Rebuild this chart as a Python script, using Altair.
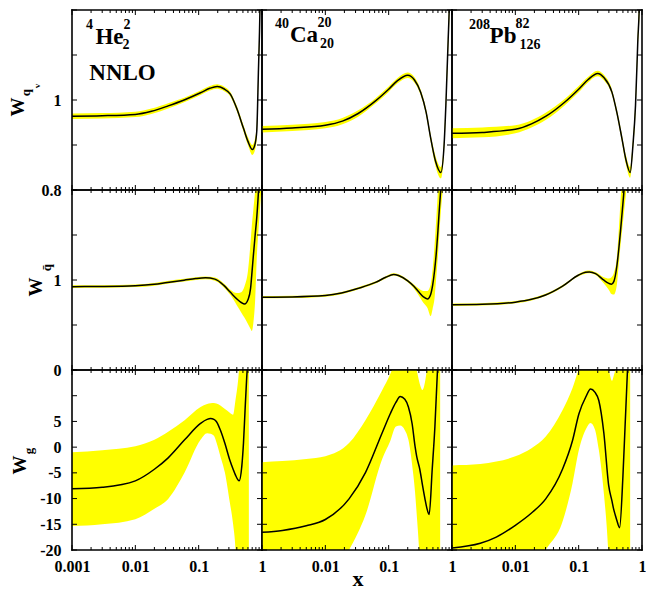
import altair as alt
import pandas as pd

FONT = "Liberation Serif"
YEL = "#ffff00"
W, H = 190, 180

# ---------------- row 1 : valence quarks W_qv ----------------
X_HE_V = [0.001, 0.003, 0.01, 0.018, 0.033, 0.059, 0.107, 0.15, 0.196, 0.25, 0.316, 0.40, 0.51, 0.60, 0.706, 0.77, 0.826, 0.877, 0.93, 0.97]
M_HE_V = [0.964, 0.965, 0.968, 0.975, 0.987, 1.000, 1.016, 1.026, 1.030, 1.025, 1.013, 0.981, 0.937, 0.908, 0.890, 0.900, 0.930, 1.061, 1.207, 1.40]
L_HE_V = [0.958, 0.959, 0.962, 0.969, 0.981, 0.995, 1.011, 1.021, 1.025, 1.020, 1.008, 0.975, 0.930, 0.900, 0.878, 0.887, 0.915, 1.040, 1.180, 1.36]
H_HE_V = [0.970, 0.971, 0.974, 0.981, 0.993, 1.005, 1.021, 1.031, 1.035, 1.030, 1.018, 0.987, 0.944, 0.917, 0.900, 0.912, 0.945, 1.080, 1.230, 1.44]

X_CA_V = [0.001, 0.003, 0.01, 0.0186, 0.033, 0.062, 0.1, 0.138, 0.20, 0.254, 0.32, 0.39, 0.46, 0.55, 0.667, 0.75, 0.80, 0.87, 0.91, 0.95]
M_CA_V = [0.935, 0.938, 0.944, 0.953, 0.970, 0.998, 1.024, 1.043, 1.055, 1.045, 1.017, 0.973, 0.916, 0.864, 0.839, 0.900, 0.988, 1.134, 1.220, 1.40]
L_CA_V = [0.928, 0.931, 0.937, 0.946, 0.963, 0.992, 1.018, 1.037, 1.049, 1.039, 1.011, 0.966, 0.908, 0.853, 0.826, 0.885, 0.970, 1.110, 1.190, 1.37]
H_CA_V = [0.942, 0.945, 0.951, 0.960, 0.977, 1.004, 1.030, 1.049, 1.061, 1.051, 1.023, 0.980, 0.924, 0.875, 0.851, 0.915, 1.006, 1.158, 1.250, 1.43]

X_PB_V = [0.001, 0.003, 0.01, 0.018, 0.0305, 0.06, 0.1, 0.14, 0.20, 0.25, 0.336, 0.40, 0.48, 0.56, 0.65, 0.72, 0.79, 0.86, 0.91, 0.95]
M_PB_V = [0.926, 0.928, 0.935, 0.947, 0.964, 0.995, 1.024, 1.045, 1.059, 1.050, 1.017, 0.973, 0.916, 0.866, 0.839, 0.900, 0.988, 1.134, 1.220, 1.40]
L_PB_V = [0.915, 0.917, 0.926, 0.939, 0.956, 0.988, 1.017, 1.039, 1.053, 1.044, 1.011, 0.966, 0.908, 0.856, 0.827, 0.887, 0.972, 1.114, 1.190, 1.37]
H_PB_V = [0.937, 0.939, 0.944, 0.955, 0.972, 1.002, 1.031, 1.051, 1.065, 1.056, 1.023, 0.980, 0.924, 0.876, 0.851, 0.913, 1.004, 1.154, 1.250, 1.43]

# ---------------- row 2 : sea quarks W_qbar ----------------
X_HE_S = [0.001, 0.003, 0.01, 0.02, 0.032, 0.059, 0.09, 0.128, 0.18, 0.25, 0.32, 0.40, 0.47, 0.53, 0.60, 0.66, 0.69, 0.73, 0.78, 0.83, 0.88, 0.93, 0.98]
M_HE_S = [0.926, 0.928, 0.936, 0.952, 0.973, 0.998, 1.016, 1.024, 1.010, 0.940, 0.860, 0.790, 0.750, 0.732, 0.780, 0.907, 1.060, 1.270, 1.500, 1.710, 1.990, 2.400, 2.800]
H_HE_S = [0.941, 0.943, 0.951, 0.967, 0.988, 1.013, 1.031, 1.040, 1.028, 0.962, 0.890, 0.855, 0.865, 0.930, 1.100, 1.420, 1.600, 1.780, 2.000, 2.300, 2.700, 3.100, 3.500]
L_HE_S = [0.911, 0.913, 0.921, 0.937, 0.958, 0.983, 1.001, 1.008, 0.992, 0.918, 0.830, 0.720, 0.640, 0.580, 0.510, 0.455, 0.434, 0.520, 0.780, 1.270, 1.550, 1.800, 2.000]

X_CA_S = [0.001, 0.003, 0.01, 0.018, 0.033, 0.062, 0.09, 0.12, 0.143, 0.20, 0.25, 0.295, 0.35, 0.41, 0.46, 0.495, 0.53, 0.56, 0.60, 0.63, 0.67, 0.72]
M_CA_S = [0.809, 0.812, 0.827, 0.855, 0.907, 0.973, 1.030, 1.062, 1.050, 0.990, 0.930, 0.871, 0.815, 0.790, 0.840, 0.943, 1.100, 1.270, 1.550, 1.780, 2.050, 2.500]
H_CA_S = [0.822, 0.825, 0.840, 0.868, 0.920, 0.986, 1.043, 1.075, 1.064, 1.005, 0.950, 0.907, 0.878, 0.878, 0.950, 1.125, 1.380, 1.640, 2.000, 2.300, 2.700, 3.100]
L_CA_S = [0.796, 0.799, 0.814, 0.842, 0.894, 0.960, 1.017, 1.049, 1.036, 0.975, 0.905, 0.834, 0.750, 0.688, 0.598, 0.680, 0.798, 1.000, 1.270, 1.500, 1.780, 2.000]

X_PB_S = [0.001, 0.003, 0.01, 0.018, 0.03, 0.055, 0.1, 0.128, 0.148, 0.185, 0.25, 0.30, 0.33, 0.36, 0.40, 0.43, 0.46, 0.49, 0.52, 0.56, 0.60]
M_PB_S = [0.725, 0.730, 0.754, 0.785, 0.834, 0.930, 1.055, 1.085, 1.090, 1.071, 0.998, 0.962, 0.954, 0.985, 1.150, 1.344, 1.560, 1.780, 2.000, 2.400, 2.800]
H_PB_S = [0.738, 0.743, 0.767, 0.798, 0.847, 0.943, 1.068, 1.100, 1.105, 1.085, 1.030, 1.016, 1.030, 1.080, 1.250, 1.560, 1.900, 2.200, 2.500, 2.900, 3.300]
L_PB_S = [0.712, 0.717, 0.741, 0.772, 0.821, 0.917, 1.042, 1.070, 1.075, 1.055, 0.960, 0.890, 0.845, 0.838, 0.943, 1.180, 1.400, 1.580, 1.750, 1.970, 2.200]

# ---------------- row 3 : gluons W_g ----------------
X_HE_G = [0.001, 0.003, 0.01, 0.02, 0.033, 0.06, 0.107, 0.136, 0.154, 0.174, 0.19, 0.22, 0.26, 0.31, 0.35, 0.38, 0.436, 0.48, 0.51, 0.54, 0.57, 0.62]
M_HE_G = [-8.1, -7.8, -6.55, -4.3, -2.08, 1.42, 4.61, 5.4, 5.56, 5.4, 5.0, 3.33, 0.7, -2.5, -4.3, -5.4, -6.55, -3.7, 0.8, 7.16, 12.9, 20.0]
H_HE_G = [-1.0, -0.6, 0.17, 1.42, 3.01, 5.25, 7.8, 8.4, 8.55, 8.6, 8.5, 8.1, 7.4, 6.7, 6.3, 9.0, 15.5, 25.0, 40.0, 40.0, 40.0, 40.0]
L_HE_G = [-15.35, -15.0, -14.0, -11.97, -10.06, -4.95, 1.42, 2.7, 2.6, 2.2, 1.0, -1.77, -5.0, -10.7, -15.0, -19.6, -40.0, -40.0, -40.0, -40.0, -40.0, -40.0]

X_CA_G = [0.001, 0.0021, 0.005, 0.01, 0.0237, 0.043, 0.0785, 0.106, 0.13, 0.152, 0.18, 0.205, 0.235, 0.261, 0.277, 0.31, 0.343, 0.374, 0.40, 0.436, 0.487, 0.537, 0.59, 0.65]
M_CA_G = [-16.56, -16.2, -15.3, -14.07, -10.06, -4.95, 2.7, 6.5, 8.7, 9.84, 9.3, 7.79, 4.5, 0.14, -1.8, -4.3, -7.5, -10.06, -11.8, -13.1, -4.3, 3.97, 15.0, 28.0]
H_CA_G = [-2.92, -2.7, -2.3, -1.77, 0.79, 5.25, 11.0, 14.2, 17.0, 19.0, 19.5, 19.0, 17.5, 16.2, 15.0, 12.3, 11.1, 12.6, 15.0, 19.0, 30.0, 40.0, 40.0, 40.0]
L_CA_G = [-30.0, -29.5, -28.0, -26.5, -20.0, -13.2, -2.4, 1.2, 4.0, 4.2, 3.3, 1.42, -3.5, -8.77, -13.0, -23.0, -40.0, -40.0, -40.0, -40.0, -40.0, -40.0, -40.0, -40.0]

X_PB_G = [0.001, 0.0028, 0.005, 0.01, 0.018, 0.0302, 0.0555, 0.08, 0.101, 0.13, 0.154, 0.18, 0.208, 0.25, 0.298, 0.336, 0.356, 0.378, 0.40, 0.443, 0.50, 0.54, 0.59, 0.65]
M_PB_G = [-19.6, -18.7, -17.5, -15.2, -12.8, -10.06, -4.3, 1.3, 6.5, 9.8, 11.3, 10.7, 9.07, 2.7, -7.5, -10.5, -12.0, -13.2, -14.2, -15.66, -5.6, 3.97, 15.0, 28.0]
H_PB_G = [-3.55, -3.3, -2.8, -1.77, -0.2, 2.06, 7.16, 11.5, 15.2, 18.0, 19.0, 19.0, 18.5, 17.0, 15.0, 12.9, 13.8, 15.0, 17.0, 25.0, 40.0, 40.0, 40.0, 40.0]
L_PB_G = [-33.0, -32.0, -30.5, -28.5, -25.0, -20.0, -14.5, -7.0, -0.5, 3.5, 4.7, 3.5, -0.5, -9.0, -22.0, -40.0, -40.0, -40.0, -40.0, -40.0, -40.0, -40.0, -40.0, -40.0]

# ---------------- axes ----------------
ROW_DOMAIN = [[0.8, 1.2], [0.0, 2.0], [-20.0, 15.0]]
ROW_TICKS = [[0.8, 0.9, 1.0, 1.1, 1.2], [0.0, 0.5, 1.0, 1.5, 2.0], [-20, -15, -10, -5, 0, 5, 10, 15]]
ROW_LABELS = [[0.8, 1.0], [0.0, 1.0], [-20, -15, -10, -5, 0, 5]]
XLAB_FIRST = [0.001, 0.01, 0.1, 1.0]
XLAB_OTHER = [0.01, 0.1, 1.0]
XMAJ = [0.001, 0.01, 0.1, 1.0]
XMIN = [m * d for d in (0.001, 0.01, 0.1) for m in range(2, 10)]

ONE = pd.DataFrame({"a": [0]})


def txt(s, x, y, size, angle=0):
    return alt.Chart(ONE).mark_text(
        text=s, font=FONT, fontWeight="bold", fontSize=size, color="black",
        align="center", baseline="middle", angle=angle
    ).encode(x=alt.value(x), y=alt.value(y))


def frame():
    st = dict(color="black", strokeWidth=1.6, strokeCap="square")
    c = alt.Chart(ONE)
    return [
        c.mark_rule(**st).encode(x=alt.value(0), x2=alt.value(W), y=alt.value(0)),
        c.mark_rule(**st).encode(x=alt.value(0), x2=alt.value(W), y=alt.value(H)),
        c.mark_rule(**st).encode(x=alt.value(0), y=alt.value(0), y2=alt.value(H)),
        c.mark_rule(**st).encode(x=alt.value(W), y=alt.value(0), y2=alt.value(H)),
    ]


TEXTS = {
    (0, 0): [("4", 17.5, 14.5, 14), ("He", 37.5, 26.5, 23), ("2", 55, 14.5, 14), ("2", 54, 34.5, 14), ("NNLO", 50.5, 62.5, 23)],
    (0, 1): [("40", 20, 14, 14), ("Ca", 42, 25, 23), ("20", 62.5, 12.5, 14), ("20", 65, 34, 14)],
    (0, 2): [("208", 27.5, 15, 14), ("Pb", 51, 26, 23), ("82", 70.5, 14, 14), ("126", 78, 34.5, 14)],
}
YTITLES = {
    0: [("W", -54.5, 97, 19), ("q", -46, 82.7, 13), ("v", -34.6, 76, 9)],
    1: [("W", -36, 97, 19), ("q\u0304", -25, 77.7, 13)],
    2: [("W", -52.5, 95, 19), ("g", -43.4, 81, 13)],
}


def panel(row, col, xs, mid, lo, hi):
    xscale = alt.Scale(type="log", domain=[0.001, 1], nice=False)
    yscale = alt.Scale(domain=ROW_DOMAIN[row], nice=False, zero=False)
    lab = dict(labelFont=FONT, labelFontWeight="bold", labelFontSize=16, labelColor="black",
               ticks=False, tickSize=0, domain=False, grid=False, title=None,
               labelOverlap=False, labelExpr="'' + datum.value")
    xaxis = None
    if row == 2:
        xaxis = alt.Axis(values=XLAB_FIRST if col == 0 else XLAB_OTHER, labelFlush=False,
                         labelPadding=8, **lab)
    yaxis = None
    if col == 0:
        yaxis = alt.Axis(values=ROW_LABELS[row], labelPadding=11, **lab)

    df = pd.DataFrame({"x": xs, "mid": mid, "lo": lo, "hi": hi})
    X = alt.X("x:Q", scale=xscale, axis=xaxis)
    band = alt.Chart(df).mark_area(color=YEL, interpolate="monotone", clip=True).encode(
        x=X, y=alt.Y("lo:Q", scale=yscale, axis=yaxis), y2="hi:Q")
    line = alt.Chart(df).mark_line(color="black", strokeWidth=1.5, interpolate="monotone", clip=True).encode(
        x=X, y=alt.Y("mid:Q", scale=yscale, axis=yaxis))

    layers = [band, line]
    tick = dict(color="black", strokeWidth=1)
    for vals, size in ((XMAJ, 5), (XMIN, 3)):
        c = alt.Chart(pd.DataFrame({"v": vals})).mark_rule(**tick)
        XV = alt.X("v:Q", scale=xscale, axis=xaxis)
        layers.append(c.encode(x=XV, y=alt.value(H), y2=alt.value(H - size)))
        layers.append(c.encode(x=XV, y=alt.value(0), y2=alt.value(size)))
    c = alt.Chart(pd.DataFrame({"v": ROW_TICKS[row]})).mark_rule(**tick)
    YV = alt.Y("v:Q", scale=yscale, axis=yaxis)
    layers.append(c.encode(y=YV, x=alt.value(0), x2=alt.value(5)))
    layers.append(c.encode(y=YV, x=alt.value(W), x2=alt.value(W - 5)))

    layers += frame()
    for t in TEXTS.get((row, col), []):
        layers.append(txt(*t))
    if col == 0:
        for t in YTITLES[row]:
            layers.append(txt(*t, angle=270))
    if row == 2 and col == 1:
        layers.append(txt("x", 96, H + 29, 22))
    return alt.layer(*layers).properties(width=W, height=H)


DATA = [
    [(X_HE_V, M_HE_V, L_HE_V, H_HE_V), (X_CA_V, M_CA_V, L_CA_V, H_CA_V), (X_PB_V, M_PB_V, L_PB_V, H_PB_V)],
    [(X_HE_S, M_HE_S, L_HE_S, H_HE_S), (X_CA_S, M_CA_S, L_CA_S, H_CA_S), (X_PB_S, M_PB_S, L_PB_S, H_PB_S)],
    [(X_HE_G, M_HE_G, L_HE_G, H_HE_G), (X_CA_G, M_CA_G, L_CA_G, H_CA_G), (X_PB_G, M_PB_G, L_PB_G, H_PB_G)],
]

panels = []
for r in range(3):
    for c in range(3):
        panels.append(panel(r, c, *DATA[r][c]))

chart = alt.concat(*panels, columns=3, spacing=0, bounds="flush").properties(
    padding=0, background="white"
).configure_view(stroke=None)

chart.save("out.html", embed_options={"renderer": "svg", "actions": False})
